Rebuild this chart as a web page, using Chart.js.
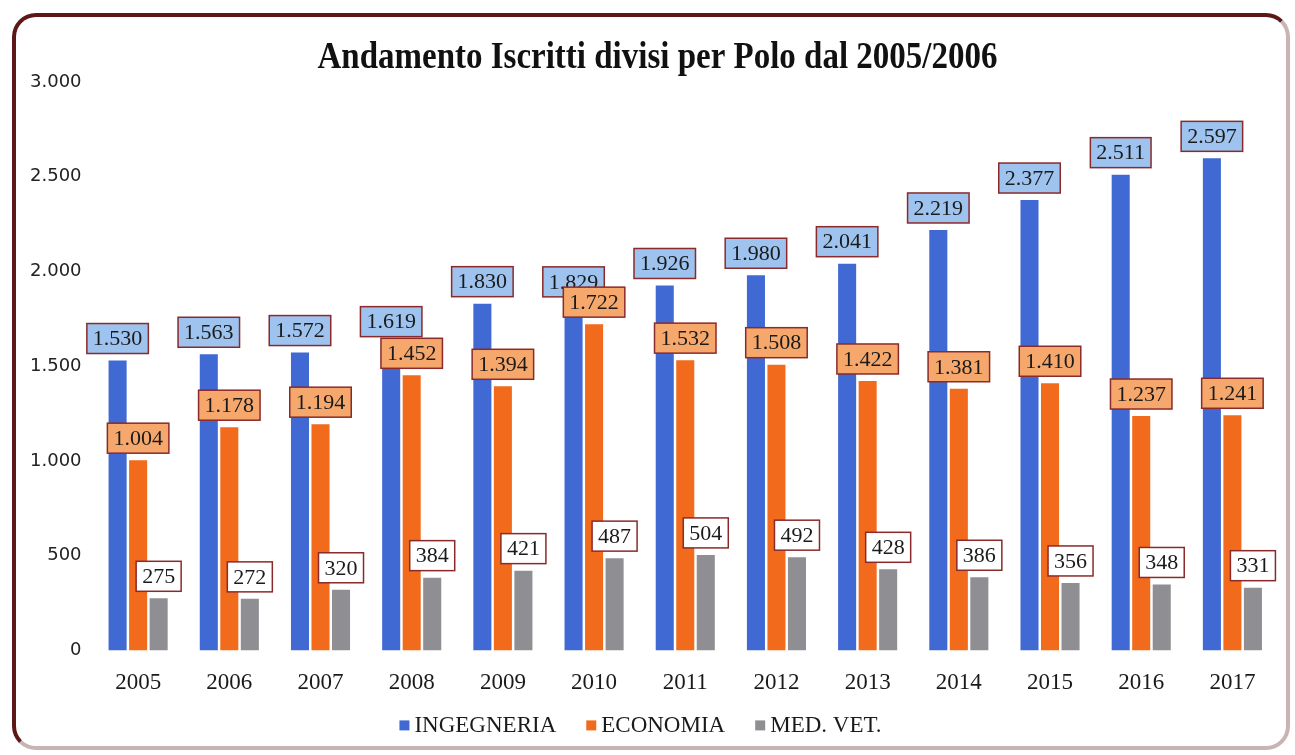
<!DOCTYPE html>
<html>
<head>
<meta charset="utf-8">
<script src="https://cdn.jsdelivr.net/npm/chart.js@4/dist/chart.umd.min.js"></script>
<style>
  html, body { margin: 0; padding: 0; background: #ffffff; width: 1295px; height: 755px; overflow: hidden; }
  #wrap { position: absolute; left: 0; top: 0; width: 1295px; height: 755px; }
  #frame {
    position: absolute; left: 12px; top: 13px; width: 1278px; height: 737px;
    border: 4px solid #5e1717; border-right-color: #c9b4b4; border-bottom-color: #c9b4b4;
    border-radius: 24px; pointer-events: none; box-sizing: border-box;
  }
  canvas { position: absolute; left: 0; top: 0; }
</style>
</head>
<body>
<div id="wrap">
  <canvas id="c" width="1295" height="755"></canvas>
  <div id="frame"></div>
</div>
<script>
const years = ['2005','2006','2007','2008','2009','2010','2011','2012','2013','2014','2015','2016','2017'];
const ingegneria = [1530,1563,1572,1619,1830,1829,1926,1980,2041,2219,2377,2511,2597];
const economia   = [1004,1178,1194,1452,1394,1722,1532,1508,1422,1381,1410,1237,1241];
const medVet     = [275,272,320,384,421,487,504,492,428,386,356,348,331];
const seriesNames = ['INGEGNERIA','ECONOMIA','MED. VET.'];
const seriesColors = ['#4169d4','#f26b1d','#8f8f93'];
const yTickValues = [0,500,1000,1500,2000,2500,3000];
const yTickLabels = ['0','500','1.000','1.500','2.000','2.500','3.000'];
const chartTitle = 'Andamento Iscritti divisi per Polo dal 2005/2006';

function fmt(v) {
  return String(v).replace(/\B(?=(\d{3})+(?!\d))/g, '.');
}

const labelStyles = [
  { bg: '#9dc3ee', border: '#8b2a2a' },
  { bg: '#f6a86c', border: '#8b2a2a' },
  { bg: '#ffffff', border: '#8b2a2a' }
];

const boxLabels = {
  id: 'boxLabels',
  afterDatasetsDraw(chart) {
    const ctx = chart.ctx;
    ctx.save();
    ctx.font = '22px "Liberation Serif", "Times New Roman", serif';
    ctx.textAlign = 'center';
    ctx.textBaseline = 'middle';
    chart.data.datasets.forEach((ds, di) => {
      const meta = chart.getDatasetMeta(di);
      const st = labelStyles[di];
      meta.data.forEach((bar, i) => {
        const txt = fmt(ds.data[i]);
        const tw = ctx.measureText(txt).width;
        const w = tw + 12, h = 30;
        const x = bar.x - w / 2;
        const y = bar.y - 7 - h;
        ctx.fillStyle = st.bg;
        ctx.fillRect(x, y, w, h);
        ctx.lineWidth = 1.5;
        ctx.strokeStyle = st.border;
        ctx.strokeRect(x, y, w, h);
        ctx.fillStyle = '#1a1a1a';
        ctx.fillText(txt, bar.x, y + h / 2 + 1);
      });
    });
    ctx.restore();
  }
};

// condensed bold serif title + custom legend
const decorations = {
  id: 'decorations',
  afterDraw(chart) {
    const ctx = chart.ctx;
    const area = chart.chartArea;
    ctx.save();
    // title
    ctx.font = 'bold 37px "Liberation Serif", "Times New Roman", serif';
    ctx.fillStyle = '#111111';
    ctx.textBaseline = 'alphabetic';
    ctx.textAlign = 'left';
    const tw = ctx.measureText(chartTitle).width;
    const targetW = 680;
    const sx = targetW / tw;
    const tx = chart.width / 2 + 10 - targetW / 2;
    ctx.translate(tx, area.top - 14);
    ctx.scale(sx, 1);
    ctx.fillText(chartTitle, 0, 0);
    ctx.restore();

    // legend
    ctx.save();
    ctx.font = '23px "Liberation Serif", "Times New Roman", serif';
    ctx.textBaseline = 'middle';
    ctx.textAlign = 'left';
    const box = 10, gap = 5, itemGap = 30;
    const items = chart.data.datasets.map(ds => ({ text: ds.label, color: ds.backgroundColor, w: ctx.measureText(ds.label).width }));
    let total = 0;
    items.forEach((it, k) => { total += box + gap + it.w + (k ? itemGap : 0); });
    let x = chart.width / 2 - 7 - total / 2;
    const y = area.bottom + 75;
    items.forEach(it => {
      ctx.fillStyle = it.color;
      ctx.fillRect(x, y - box / 2, box, box);
      ctx.fillStyle = '#1a1a1a';
      ctx.fillText(it.text, x + box + gap, y + 1);
      x += box + gap + it.w + itemGap;
    });
    ctx.restore();
  }
};

new Chart(document.getElementById('c'), {
  type: 'bar',
  data: {
    labels: years,
    datasets: [
      { label: seriesNames[0], data: ingegneria, backgroundColor: seriesColors[0] },
      { label: seriesNames[1], data: economia, backgroundColor: seriesColors[1] },
      { label: seriesNames[2], data: medVet, backgroundColor: seriesColors[2] }
    ]
  },
  options: {
    responsive: false,
    animation: false,
    layout: { padding: { top: 82, left: 19, right: 17, bottom: 39 } },
    datasets: { bar: { categoryPercentage: 0.675, barPercentage: 0.88 } },
    scales: {
      x: {
        grid: { display: false, drawTicks: false },
        border: { display: false },
        ticks: { color: '#1a1a1a', padding: 19, font: { family: '"Liberation Serif", serif', size: 23 } }
      },
      y: {
        min: 0, max: 3000,
        grid: { display: false, drawTicks: false },
        border: { display: false },
        afterBuildTicks(scale) { scale.ticks = yTickValues.map(v => ({ value: v })); },
        ticks: {
          color: '#222222', padding: 11,
          font: { family: '"DejaVu Sans", sans-serif', size: 18 },
          callback(value) { const k = yTickValues.indexOf(value); return k >= 0 ? yTickLabels[k] : ''; }
        }
      }
    },
    plugins: {
      title: { display: false },
      legend: { display: false },
      tooltip: { enabled: false }
    }
  },
  plugins: [boxLabels, decorations]
});
</script>
</body>
</html>
